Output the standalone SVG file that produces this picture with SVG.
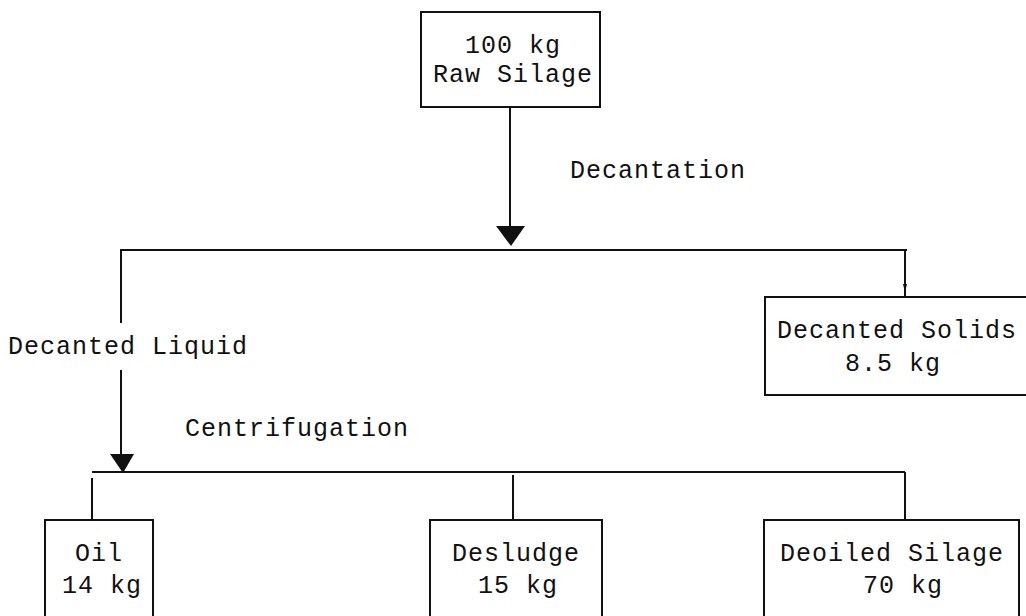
<svg xmlns="http://www.w3.org/2000/svg" width="1026" height="616" viewBox="0 0 1026 616">
<style>
.box{fill:none;stroke:#111;stroke-width:2}
.ln{fill:none;stroke:#111;stroke-width:2}
.ah{fill:#111;stroke:none}
text{font-family:"Liberation Mono","DejaVu Sans Mono",monospace;font-size:25px;letter-spacing:1px;fill:#111}
</style>
<rect width="1026" height="616" fill="#fff"/>
<g id="connectors">
<line class="ln" x1="510" y1="107" x2="510" y2="232"/>
<polygon class="ah" points="496,226 525,226 511,246"/>
<line class="ln" x1="120" y1="250" x2="907" y2="250"/>
<line class="ln" x1="121" y1="250" x2="121" y2="323"/>
<line class="ln" x1="121" y1="370" x2="121" y2="458"/>
<polygon class="ah" points="110,454 134,454 123,473"/>
<line class="ln" x1="905" y1="250" x2="905" y2="297"/>
<polygon class="ah" points="903,284 907,284 905,292"/>
<line class="ln" x1="92" y1="472" x2="905" y2="472"/>
<line class="ln" x1="92" y1="478" x2="92" y2="520"/>
<line class="ln" x1="513" y1="475" x2="513" y2="520"/>
<line class="ln" x1="905" y1="472" x2="905" y2="520"/>
</g>
<g id="raw-silage">
<rect class="box" x="421" y="12" width="179" height="95"/>
<text x="465" y="53">100 kg</text>
<text x="433" y="82">Raw Silage</text>
</g>
<g id="decantation-label"><text x="570" y="178">Decantation</text></g>
<g id="decanted-liquid-label"><text x="8" y="354">Decanted Liquid</text></g>
<g id="centrifugation-label"><text x="185" y="436">Centrifugation</text></g>
<g id="decanted-solids">
<rect class="box" x="765" y="297" width="270" height="98"/>
<text x="777" y="338">Decanted Solids</text>
<text x="845" y="371">8.5 kg</text>
</g>
<g id="oil">
<rect class="box" x="45" y="520" width="108" height="110"/>
<text x="75" y="561">Oil</text>
<text x="62" y="593">14 kg</text>
</g>
<g id="desludge">
<rect class="box" x="430" y="520" width="172" height="110"/>
<text x="452" y="561">Desludge</text>
<text x="478" y="593">15 kg</text>
</g>
<g id="deoiled-silage">
<rect class="box" x="764" y="520" width="255" height="110"/>
<text x="780" y="561">Deoiled Silage</text>
<text x="863" y="593">70 kg</text>
</g>
</svg>
